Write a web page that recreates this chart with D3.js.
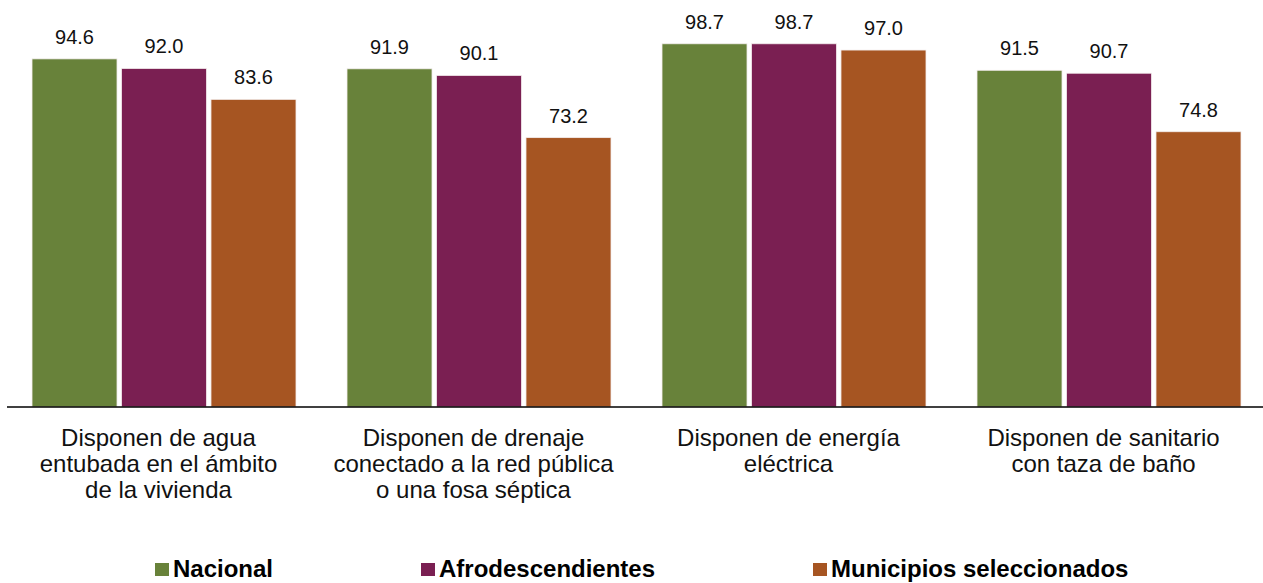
<!DOCTYPE html>
<html>
<head>
<meta charset="utf-8">
<script src="https://cdn.jsdelivr.net/npm/d3@7"></script>
<style>
  html, body { margin: 0; padding: 0; background: #fff; }
  svg { display: block; font-family: Arial, "Liberation Sans", sans-serif; }
</style>
</head>
<body>
<svg id="chart" width="1263" height="583"></svg>
<script>
const categories = [
  ["Disponen de agua", "entubada en el ámbito", "de la vivienda"],
  ["Disponen de drenaje", "conectado a la red pública", "o una fosa séptica"],
  ["Disponen de energía", "eléctrica"],
  ["Disponen de sanitario", "con taza de baño"]
];
const seriesNames = ["Nacional", "Afrodescendientes", "Municipios seleccionados"];
const nacional = [94.6, 91.9, 98.7, 91.5];
const afrodescendientes = [92.0, 90.1, 98.7, 90.7];
const municipios = [83.6, 73.2, 97.0, 74.8];
const colors = ["#68823A", "#7A1F52", "#A65522"];

const series = [nacional, afrodescendientes, municipios];
const svg = d3.select("#chart");
const catIdx = categories.map((d, i) => i);

const x0 = d3.scaleBand().domain(catIdx).range([6.5, 1266.5]).padding(0);
const x1 = d3.scaleBand().domain([0, 1, 2]).range([0, x0.bandwidth()])
  .paddingInner(0.05).paddingOuter(0.285);
const y = d3.scaleLinear().domain([0, 100]).range([407, 39]);

const groups = svg.append("g").selectAll("g")
  .data(catIdx).join("g")
  .attr("transform", i => `translate(${x0(i)},0)`);

groups.selectAll("rect")
  .data(i => series.map((s, k) => ({ k, v: s[i] })))
  .join("rect")
  .attr("x", d => x1(d.k))
  .attr("y", d => y(d.v))
  .attr("width", x1.bandwidth())
  .attr("height", d => y(0) - y(d.v))
  .attr("fill", d => colors[d.k])
  .attr("stroke", "#f4eeee")
  .attr("stroke-width", 0.8);

groups.selectAll("text.val")
  .data(i => series.map((s, k) => ({ k, v: s[i] })))
  .join("text")
  .attr("class", "val")
  .attr("x", d => x1(d.k) + x1.bandwidth() / 2)
  .attr("y", d => y(d.v) - 15)
  .attr("text-anchor", "middle")
  .attr("font-size", 20)
  .attr("fill", "#111")
  .text(d => d.v.toFixed(1));

// axis baseline
const xAxis = d3.axisBottom(x0).tickSize(0).tickFormat("");
const ax = svg.append("g").attr("transform", "translate(0,407)").call(xAxis);
ax.select(".domain").attr("d", "M7,0H1263").attr("stroke", "#000").attr("stroke-width", 1.5);

// category labels
groups.append("text")
  .attr("text-anchor", "middle")
  .attr("font-size", 24)
  .attr("fill", "#111")
  .selectAll("tspan")
  .data(i => categories[i])
  .join("tspan")
  .attr("x", x0.bandwidth() / 2 - 5.5)
  .attr("y", (d, j) => 446 + j * 26)
  .text(d => d);

// legend
const legendX = [155, 421, 813];
const lg = svg.append("g").selectAll("g")
  .data(seriesNames).join("g")
  .attr("transform", (d, i) => `translate(${legendX[i]},0)`);
lg.append("rect").attr("x", 0).attr("y", 563).attr("width", 14).attr("height", 13)
  .attr("fill", (d, i) => colors[i]);
lg.append("text").attr("x", 18).attr("y", 577)
  .attr("font-size", 24).attr("font-weight", "bold").attr("fill", "#000")
  .text(d => d);
</script>
</body>
</html>
